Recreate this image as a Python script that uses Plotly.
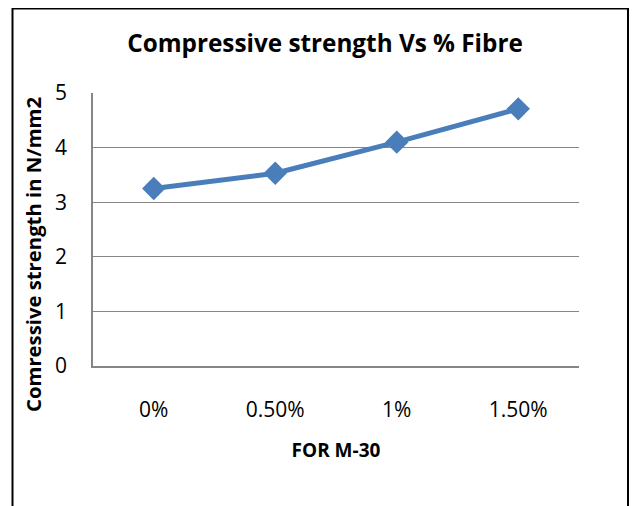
import plotly.graph_objects as go

categories = ["0%", "0.50%", "1%", "1.50%"]
strength = [3.25, 3.53, 4.10, 4.71]
y_ticks = [0, 1, 2, 3, 4, 5]

W, H = 640, 506
ml, mr, mt, mb = 85, 69, 85, 148
pw, ph = W - ml - mr, H - mt - mb

fig = go.Figure()
fig.add_trace(go.Scatter(
    x=categories, y=strength, mode="lines+markers",
    line=dict(color="#4A7EBB", width=5),
    marker=dict(symbol="diamond", size=18, color="#4A7EBB"),
    showlegend=False,
))

def px_x(p):
    return (p - ml) / pw

def px_y(p):
    return (H - mb - p) / ph

fig.add_shape(type="rect", xref="paper", yref="paper",
              x0=px_x(4.5), x1=px_x(620), y0=px_y(530), y1=px_y(0.5),
              line=dict(color="black", width=2), fillcolor="rgba(0,0,0,0)", layer="below")

fig.add_annotation(text="<b>Comressive strength in N/mm2</b>", textangle=-90,
                   xref="paper", yref="paper", x=px_x(25), y=px_y(247),
                   xanchor="center", yanchor="middle", showarrow=False,
                   font=dict(size=20.3, color="black"))

font_family = "Open Sans, Noto Sans, sans-serif"
fig.update_layout(
    width=W, height=H,
    margin=dict(l=ml, r=mr, t=mt, b=mb),
    paper_bgcolor="white", plot_bgcolor="white",
    font=dict(family=font_family, color="black"),
    title=dict(text="<b>Compressive strength Vs % Fibre</b>", x=317 / W, xanchor="center",
               xref="container",
               y=1 - 35 / H, yanchor="middle", font=dict(size=24.3, color="black")),
    xaxis=dict(type="category", range=[-0.5, 3.5], showgrid=False,
               showline=True, linecolor="#868686", linewidth=1.5,
               tickfont=dict(size=21), ticks="", ticklabelstandoff=24,
               title=dict(text="<b>FOR M-30</b>", font=dict(size=19), standoff=22),
               zeroline=False),
    yaxis=dict(range=[0, 5], tickvals=y_ticks, showgrid=True, gridcolor="#868686", gridwidth=1.2,
               showline=True, linecolor="#868686", linewidth=1.5,
               ticks="", ticklabelstandoff=20,
               tickfont=dict(size=21), zeroline=False),
)

fig.write_html("out.html")
